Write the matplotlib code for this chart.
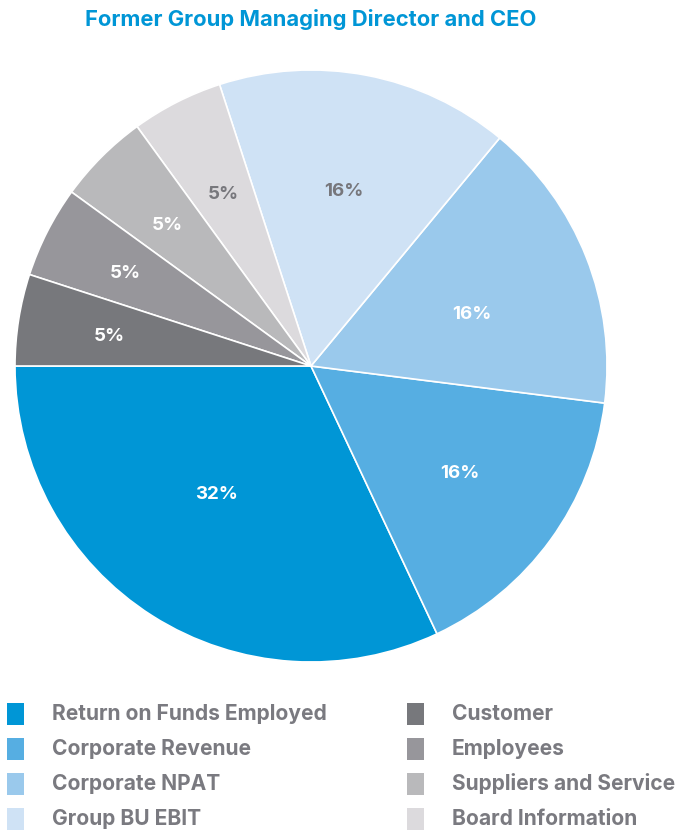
import numpy as np
import matplotlib.pyplot as plt
from matplotlib.patches import Rectangle

# slices, counter-clockwise from 9 o'clock
labels = ["Return on Funds Employed", "Corporate Revenue", "Corporate NPAT",
          "Group BU EBIT", "Board Information", "Suppliers and Service",
          "Employees", "Customer"]
values = [32, 16, 16, 16, 5, 5, 5, 5]
colors = ["#0096d6", "#56aee2", "#9ac9ec", "#cfe2f5",
          "#dcdadd", "#b9b9bb", "#97969b", "#77787c"]
pct_colors = ["white", "white", "white", "#77777c",
              "#77777c", "white", "white", "white"]
# label placement: radius fraction and angle shift from the wedge middle
pct_dist = [0.54, 0.62, 0.57, 0.60, 0.65, 0.68, 0.70, 0.69]
pct_shift = [-4, 0, -4, 0, 0, 0.7, 0.6, 0.7]

legend_order = [0, 1, 2, 3, 7, 6, 5, 4]

W, H = 678, 832
fig = plt.figure(figsize=(W / 100, H / 100), dpi=100)
plt.rcParams['font.family'] = ['Inter', 'DejaVu Sans']

cx, cy, r = 311, 366, 296
ax = fig.add_axes([(cx - r) / W, (H - cy - r) / H, 2 * r / W, 2 * r / H])
wedges, _ = ax.pie(values, colors=colors, startangle=180, counterclock=True,
                   wedgeprops=dict(edgecolor="white", linewidth=1.2))
ax.set_aspect("equal")
ax.set_xlim(-1, 1)
ax.set_ylim(-1, 1)

for w, v, d, s, c in zip(wedges, values, pct_dist, pct_shift, pct_colors):
    mid = np.deg2rad((w.theta1 + w.theta2) / 2 + s)
    ax.text(d * np.cos(mid), d * np.sin(mid), f"{v}%", ha="center", va="center",
            color=c, fontsize=13.5, fontweight="bold")

fig.text(cx / W, 1 - 19 / H, "Former Group Managing Director and CEO",
         ha="center", va="center", color="#0096d6", fontsize=15.8, fontweight="bold")

# legend, two columns
for k, i in enumerate(legend_order):
    col, row = divmod(k, 4)
    x0 = 7 + col * 400
    y0 = 714 + row * 35
    fig.add_artist(Rectangle((x0 / W, 1 - (y0 + 11) / H), 17 / W, 22 / H,
                             transform=fig.transFigure, color=colors[i], lw=0))
    fig.text((x0 + 45) / W, 1 - y0 / H, labels[i], ha="left", va="center",
             color="#7a7a80", fontsize=15.1, fontweight="bold")

fig.savefig("out.png", dpi=100)
